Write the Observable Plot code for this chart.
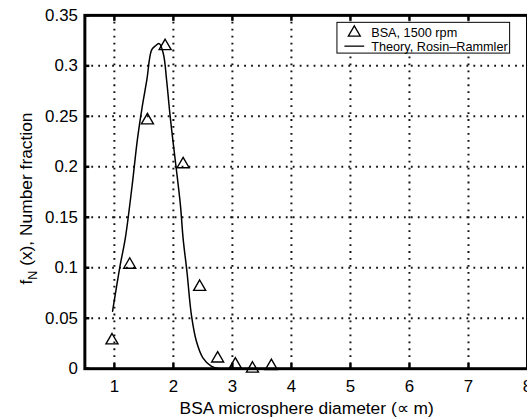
<!DOCTYPE html>
<html><head><meta charset="utf-8">
<script src="https://cdn.jsdelivr.net/npm/d3@7"></script>
<script src="https://cdn.jsdelivr.net/npm/@observablehq/plot@0.6"></script>
<style>html,body{margin:0;padding:0;background:#fff;overflow:hidden;}</style>
</head><body><div id="chart"></div>
<script>
// Measured data (triangles)
const measX = [0.96, 1.26, 1.56, 1.86, 2.165, 2.445, 2.75, 3.05, 3.34, 3.66];
const measY = [0.028, 0.103, 0.246, 0.3195, 0.2025, 0.081, 0.0101, 0.004, 0.0, 0.0026];
// Theory curve (Rosin-Rammler)
const theoryX = [0.97, 1.10, 1.185, 1.30, 1.39, 1.465, 1.55, 1.63, 1.69, 1.76, 1.83, 1.885, 1.94, 1.99, 2.05, 2.12, 2.165, 2.23, 2.305, 2.39, 2.50, 2.64, 2.78];
const theoryY = [0.057, 0.103, 0.129, 0.181, 0.227, 0.257, 0.286, 0.3156, 0.3195, 0.322, 0.312, 0.286, 0.253, 0.227, 0.1976, 0.1615, 0.1288, 0.096, 0.0534, 0.0272, 0.0108, 0.0026, 0];
const xTicks = [1, 2, 3, 4, 5, 6, 7, 8];
const yTicks = [0, 0.05, 0.1, 0.15, 0.2, 0.25, 0.3, 0.35];
const yTickLabels = ["0", "0.05", "0.1", "0.15", "0.2", "0.25", "0.3", "0.35"];
const legendLabels = ["BSA, 1500 rpm", "Theory, Rosin\u2013Rammler"];
const xLabel = "BSA microsphere diameter (\u221d m)";
const yLabelMain = "f", yLabelSub = "N", yLabelRest = " (x), Number fraction";

const measured = measX.map((x, i) => ({x, y: measY[i]}));
const theory = theoryX.map((x, i) => ({x, y: theoryY[i]}));

const W = 531, H = 420, ML = 85, MT = 15, MB = 49, MR = 0;
const font = "'Liberation Sans', Arial, Helvetica, sans-serif";
const gridStyle = {stroke: "#111", strokeOpacity: 1, strokeWidth: 2, strokeDasharray: "1.8,5.2"};

const chart = Plot.plot({
  width: W, height: H, marginLeft: ML, marginTop: MT, marginBottom: MB, marginRight: MR,
  style: {fontFamily: font, fontSize: "17px", background: "white", color: "black"},
  x: {domain: [0.5, 8]},
  y: {domain: [0, 0.35]},
  marks: [
    Plot.gridX(xTicks.filter(d => d < 8), gridStyle),
    Plot.gridY(yTicks.filter(d => d > 0 && d < 0.35), gridStyle),
    Plot.axisX({ticks: xTicks, tickSize: 0, tickPadding: 11, label: null, fontSize: 17}),
    Plot.axisY({ticks: yTicks, tickSize: 0, tickPadding: 7, label: null, fontSize: 17,
      tickFormat: d => yTickLabels[yTicks.indexOf(d)]}),
    Plot.axisX({ticks: xTicks, tickSize: -5, text: null, label: null, strokeWidth: 2.5}),
    Plot.axisX({anchor: "top", ticks: xTicks, tickSize: -5, text: null, label: null, strokeWidth: 2.5}),
    Plot.axisY({ticks: yTicks, tickSize: -5, text: null, label: null, strokeWidth: 2.5}),
    Plot.line(theory, {x: "x", y: "y", stroke: "black", strokeWidth: 1.5, curve: "catmull-rom"}),
    Plot.dot(measured, {x: "x", y: "y", symbol: "triangle", r: 4.5, stroke: "black", fill: "none", strokeWidth: 1.4}),
    Plot.frame({stroke: "black", strokeWidth: 3})
  ]
});

const svg = d3.select(chart);
// x label
svg.append("text")
  .attr("x", 309).attr("y", 417)
  .attr("text-anchor", "middle")
  .attr("font-family", font).attr("font-size", 17.5).attr("fill", "black")
  .text(xLabel);
// y label with subscript
const yl = svg.append("text")
  .attr("transform", "translate(32,200) rotate(-90)")
  .attr("text-anchor", "middle")
  .attr("font-family", font).attr("font-size", 17.5).attr("fill", "black");
yl.append("tspan").text(yLabelMain);
yl.append("tspan").attr("font-size", 12.5).attr("dy", 5).text(yLabelSub);
yl.append("tspan").attr("dy", -5).text(yLabelRest);

// legend
const lg = svg.append("g").attr("font-family", font).attr("font-size", 12.8).attr("text-anchor", "start");
lg.append("rect").attr("x", 339.5).attr("y", 22.5).attr("width", 174).attr("height", 31)
  .attr("fill", "white").attr("stroke", "black").attr("stroke-width", 1);
lg.append("path").attr("d", d3.symbol(d3.symbolTriangle, Math.PI * 4.5 * 4.5)())
  .attr("transform", "translate(357,33)").attr("fill", "none").attr("stroke", "black").attr("stroke-width", 1.3);
lg.append("line").attr("x1", 347).attr("x2", 367).attr("y1", 46.5).attr("y2", 46.5)
  .attr("stroke", "black").attr("stroke-width", 1.3);
lg.append("text").attr("x", 374).attr("y", 37).attr("text-anchor", "start").attr("fill", "black").text(legendLabels[0]);
lg.append("text").attr("x", 374).attr("y", 51).attr("text-anchor", "start").attr("fill", "black").text(legendLabels[1]);

document.getElementById("chart").appendChild(chart);
</script>
</body></html>
